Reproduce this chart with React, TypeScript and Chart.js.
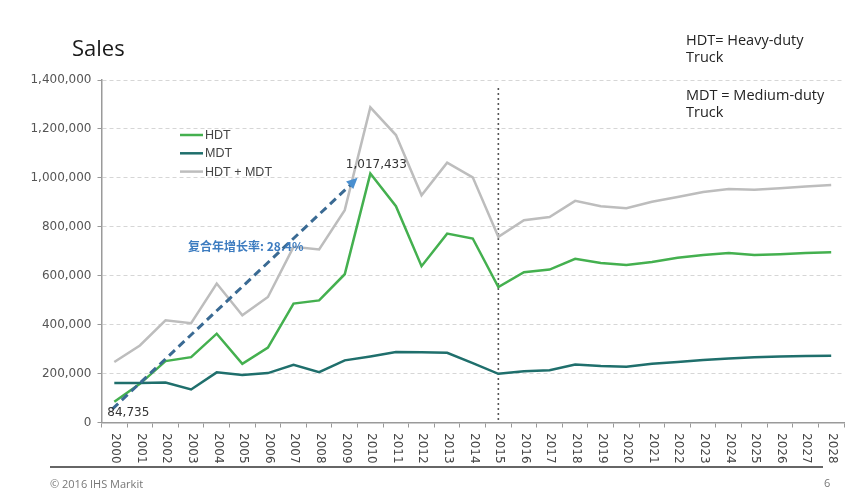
import React, { useEffect, useRef } from "react";
import { Chart, registerables } from "chart.js";

Chart.register(...registerables);

const years = [
  "2000", "2001", "2002", "2003", "2004", "2005", "2006", "2007", "2008", "2009",
  "2010", "2011", "2012", "2013", "2014", "2015", "2016", "2017", "2018", "2019",
  "2020", "2021", "2022", "2023", "2024", "2025", "2026", "2027", "2028",
];

const hdt = [
  84735, 158000, 251000, 267000, 363000, 240000, 306000, 486000, 499000, 606000,
  1017433, 884000, 639000, 772000, 752000, 554000, 614000, 625000, 669000, 652000,
  644000, 656000, 673000, 685000, 693000, 685000, 688000, 693000, 696000,
];

const mdt = [
  161000, 161000, 163000, 135000, 205000, 194000, 202000, 236000, 206000, 254000,
  270000, 288000, 287000, 285000, 243000, 199000, 209000, 214000, 237000, 231000,
  228000, 240000, 247000, 255000, 262000, 267000, 270000, 272000, 273000,
];

const total = [
  247000, 315000, 418000, 406000, 568000, 438000, 513000, 718000, 707000, 868000,
  1288000, 1175000, 929000, 1062000, 1002000, 759000, 827000, 840000, 906000, 884000,
  876000, 902000, 922000, 942000, 954000, 951000, 958000, 965000, 971000,
];

const seriesNames = ["HDT", "MDT", "HDT + MDT"];
const seriesColors = ["#44b04f", "#1f6f6c", "#bdbdbd"];
const yMax = 1400000;
const yStep = 200000;
const forecastStartIndex = 15;
const peakIndex = 10;
const cagrText = "复合年增长率: 28.4%";

const overlayPlugin = {
  id: "overlay",
  beforeDatasetsDraw(chart: any) {
    const { ctx, scales, chartArea } = chart;
    const x = scales.x.getPixelForValue(forecastStartIndex);
    ctx.save();
    ctx.strokeStyle = "#555";
    ctx.lineWidth = 1.6;
    ctx.setLineDash([2, 3]);
    ctx.beginPath();
    ctx.moveTo(x, chartArea.top + 8);
    ctx.lineTo(x, chartArea.bottom);
    ctx.stroke();
    ctx.restore();
  },
  afterDraw(chart: any) {
    const { ctx, scales } = chart;
    const xs = scales.x;
    const ys = scales.y;
    ctx.save();
    // rotated year labels (reading top to bottom)
    ctx.fillStyle = "#444";
    ctx.font = "12px 'DejaVu Sans'";
    ctx.textAlign = "left";
    ctx.textBaseline = "middle";
    years.forEach((yr, i) => {
      const px = xs.getPixelForValue(i);
      ctx.save();
      ctx.translate(px + 1, ys.bottom + 10.5);
      ctx.rotate(Math.PI / 2);
      ctx.fillText(yr, 0, 0);
      ctx.restore();
    });

    // legend inside the plot
    ctx.font = "12.5px 'Liberation Sans'";
    ctx.textBaseline = "middle";
    seriesNames.forEach((name, i) => {
      const ly = 135 + i * 18.3;
      ctx.strokeStyle = seriesColors[i];
      ctx.lineWidth = 2.5;
      ctx.beginPath();
      ctx.moveTo(180, ly);
      ctx.lineTo(203, ly);
      ctx.stroke();
      ctx.fillStyle = "#444";
      ctx.fillText(name, 205, ly + 0.5);
    });

    // CAGR arrow
    const sx = xs.getPixelForValue(0) - 2;
    const sy = ys.getPixelForValue(55000);
    const ex = (xs.getPixelForValue(peakIndex - 1) + xs.getPixelForValue(peakIndex)) / 2;
    const ey = ys.getPixelForValue(1000000);
    ctx.strokeStyle = "#3a6a93";
    ctx.lineWidth = 3;
    ctx.setLineDash([8, 5]);
    ctx.beginPath();
    ctx.moveTo(sx, sy);
    ctx.lineTo(ex - 6, ey + 6);
    ctx.stroke();
    ctx.setLineDash([]);
    const ang = Math.atan2(ey - sy, ex - sx);
    ctx.fillStyle = "#4a8fcf";
    ctx.beginPath();
    ctx.moveTo(ex, ey);
    ctx.lineTo(ex - 12 * Math.cos(ang - 0.45), ey - 12 * Math.sin(ang - 0.45));
    ctx.lineTo(ex - 12 * Math.cos(ang + 0.45), ey - 12 * Math.sin(ang + 0.45));
    ctx.closePath();
    ctx.fill();

    // CAGR text
    ctx.fillStyle = "#3d7cc0";
    ctx.font = "bold 12px 'Noto Sans CJK SC'";
    ctx.textAlign = "left";
    ctx.fillText(cagrText, xs.getPixelForValue(3) - 3, ys.getPixelForValue(720000));

    // data labels
    ctx.fillStyle = "#333";
    ctx.font = "12px 'DejaVu Sans'";
    ctx.textAlign = "center";
    ctx.fillText(
      hdt[peakIndex].toLocaleString("en-US"),
      xs.getPixelForValue(peakIndex) + 6,
      ys.getPixelForValue(hdt[peakIndex]) - 9
    );
    ctx.textAlign = "left";
    ctx.fillText(
      hdt[0].toLocaleString("en-US"),
      xs.getPixelForValue(0) - 7,
      ys.getPixelForValue(hdt[0]) + 11
    );

    // slide separator line
    ctx.strokeStyle = "#333";
    ctx.lineWidth = 1.5;
    ctx.beginPath();
    ctx.moveTo(50, 467);
    ctx.lineTo(823, 467);
    ctx.stroke();
    ctx.restore();
  },
};

export default function App() {
  const ref = useRef<HTMLCanvasElement>(null);
  useEffect(() => {
    document.body.style.margin = "0";
    const chart = new Chart(ref.current as HTMLCanvasElement, {
      type: "line",
      data: {
        labels: years,
        datasets: [
          { label: seriesNames[2], data: total, borderColor: seriesColors[2], borderWidth: 2.5, pointRadius: 0, tension: 0 },
          { label: seriesNames[1], data: mdt, borderColor: seriesColors[1], borderWidth: 2.5, pointRadius: 0, tension: 0 },
          { label: seriesNames[0], data: hdt, borderColor: seriesColors[0], borderWidth: 2.5, pointRadius: 0, tension: 0 },
        ],
      },
      options: {
        responsive: false,
        animation: false,
        devicePixelRatio: 1,
        layout: { padding: { left: 0, right: 9, top: 80, bottom: 0 } },
        plugins: { legend: { display: false }, tooltip: { enabled: false }, title: { display: false } },
        scales: {
          x: {
            type: "category",
            offset: true,
            afterFit(scale: any) {
              scale.height = 67.5;
            },
            grid: { display: true, drawOnChartArea: false, drawTicks: true, tickLength: 5, offset: true, color: "#999", tickColor: "#999" },
            border: { display: true, color: "#9a9a9a", width: 1.5 },
            ticks: { display: false },
          },
          y: {
            min: 0,
            max: yMax,
            afterFit(scale: any) {
              scale.width = 101.5;
            },
            ticks: {
              stepSize: yStep,
              color: "#555",
              padding: 6,
              font: { family: "'DejaVu Sans'", size: 12 },
              callback: (v: any) => Number(v).toLocaleString("en-US"),
            },
            grid: { color: "#d6d6d6", lineWidth: 1, tickLength: 4, tickColor: "#999" },
            border: { display: true, color: "#9a9a9a", width: 1.5, dash: [4, 3] },
          },
        },
      },
      plugins: [overlayPlugin],
    });
    return () => chart.destroy();
  }, []);

  const font = "'Open Sans', 'Liberation Sans', sans-serif";
  return (
    <div style={{ position: "relative", width: 853, height: 490, background: "#fff", overflow: "hidden" }}>
      <canvas ref={ref} width={853} height={490} style={{ position: "absolute", left: 0, top: 0, width: 853, height: 490 }} />
      <div style={{ position: "absolute", left: 72, top: 33, fontFamily: font, fontSize: 22, lineHeight: "28px", color: "#1a1a1a" }}>Sales</div>
      <div style={{ position: "absolute", left: 686, top: 31, fontFamily: font, fontSize: 14.5, lineHeight: "17px", color: "#222", width: 165 }}>
        HDT= Heavy-duty<br />Truck
      </div>
      <div style={{ position: "absolute", left: 686, top: 85.5, fontFamily: font, fontSize: 14.5, lineHeight: "17px", color: "#222", width: 165 }}>
        MDT = Medium-duty<br />Truck
      </div>
      <div style={{ position: "absolute", left: 50, top: 477, fontFamily: font, fontSize: 11, lineHeight: "14px", color: "#777" }}>© 2016 IHS Markit</div>
      <div style={{ position: "absolute", left: 824, top: 476, fontFamily: font, fontSize: 11, lineHeight: "14px", color: "#777" }}>6</div>
    </div>
  );
}
